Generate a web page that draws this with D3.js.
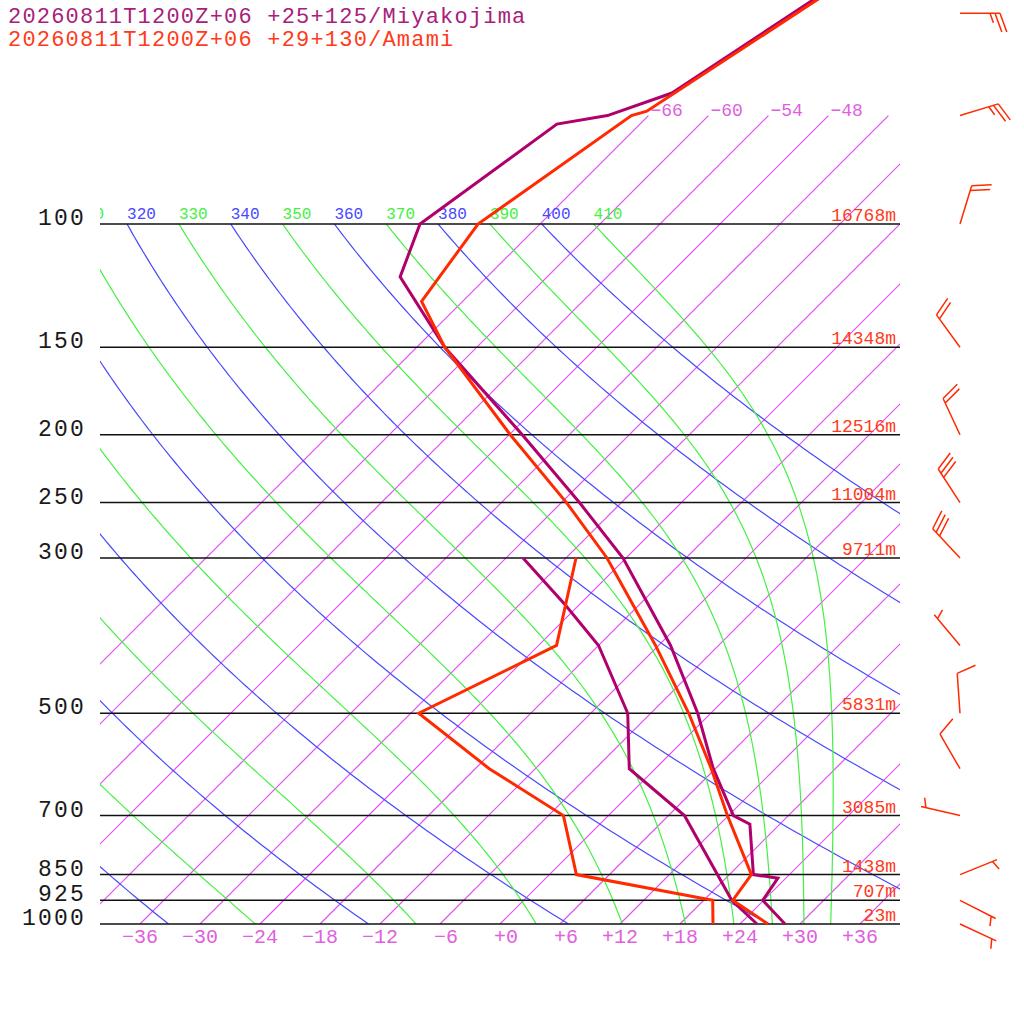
<!DOCTYPE html>
<html><head><meta charset="utf-8">
<script src="https://cdn.jsdelivr.net/npm/d3@7"></script>
<style>
body{margin:0;background:#fff}
text{font-family:"Liberation Mono","DejaVu Sans Mono",monospace}
</style>
</head><body>
<svg id="c" width="1024" height="1024"></svg>
<script>
// ---------- data ----------
const titleLines = ["20260811T1200Z+06 +25+125/Miyakojima", "20260811T1200Z+06 +29+130/Amami"];
const pressureLevels = [1000, 925, 850, 700, 500, 300, 250, 200, 150, 100];
const heightLabels   = ["23m", "707m", "1438m", "3085m", "5831m", "9711m", "11004m", "12516m", "14348m", "16768m"];
const tempTicks = [-36, -30, -24, -18, -12, -6, 0, 6, 12, 18, 24, 30, 36];
const isoTemps = d3.range(-66, 61, 6);
const isoLabelTemps = [-66, -60, -54, -48];
const thetaValues = d3.range(200, 411, 10);          // 20K multiples: dry adiabats, others: moist
const thetaLabelValues = d3.range(310, 411, 10);

// Miyakojima temperature / dew point
const miyakoTempP = [1000, 925, 860, 850, 720, 700, 600, 500, 400, 300, 250, 200, 150, 119, 100, 72, 70, 65, 30];
const miyakoTempT = [28.5, 23.9, 23.2, 20.4, 15.0, 12.5, 5.8, -1.3, -10.8, -24.3, -34.2, -46.7, -63.2, -74.7, -78.0, -74.3, -70.1, -65.9, -53.8];
const miyakoDewP  = [1000, 925, 850, 700, 600, 500, 400, 350, 300];
const miyakoDewT  = [25.7, 20.8, 16.8, 7.6, -2.6, -8.3, -18.0, -25.4, -34.3];
// Amami temperature / dew point
const amamiTempP = [1000, 925, 850, 700, 600, 500, 400, 300, 250, 200, 150, 129, 100, 70, 69, 30];
const amamiTempT = [26.8, 20.9, 20.2, 11.9, 5.6, -2.2, -12.3, -25.9, -35.5, -47.9, -63.2, -70.1, -72.2, -67.7, -66.6, -53.2];
const amamiDewP  = [1000, 925, 850, 700, 600, 500, 400, 300];
const amamiDewT  = [21.3, 18.9, 2.7, -4.5, -16.6, -29.2, -22.2, -29.0];
// Amami winds (direction from, knots)
const windP     = [50, 70, 100, 150, 200, 250, 300, 400, 500, 600, 700, 850, 925, 1000];
const windDir   = [90, 73, 17, 324, 335, 327, 317, 320, 356, 330, 283, 68, 117, 115];
const windSpeed = [25, 25, 20, 20, 20, 30, 30, 5, 10, 10, 5, 5, 5, 5];

// ---------- styles ----------
const C_MIYAKO = "#b0006b", C_MIYAKO_TXT = "#a8207a";
const C_AMAMI = "#ff2a00", C_AMAMI_TXT = "#ff3a1a";
const C_ISO = "#e050f0", C_ISO_TXT = "#e060e0";
const C_DRY = "#4848ff", C_MOIST = "#44f044";

// ---------- scales ----------
const svg = d3.select("#c");
const y = d3.scaleLog().domain([1000, 100]).range([924, 224]);
const xT = d3.scaleLinear().domain([-40, 40]).range([100, 900]);
const sx = (t, p) => xT(t) + (y(1000) - y(p));

// thermodynamics
const Rd = 287.04, cp = 1005.7, Lv = 2.501e6, eps = 0.622, kappa = Rd / cp;
const es = Tk => 6.112 * Math.exp(17.67 * (Tk - 273.15) / (Tk - 29.65));
function dTdlnp(p, Tk) {
  const e = es(Tk), rs = eps * e / (p - e);
  return (Rd * Tk + Lv * rs) / (cp + Lv * Lv * rs * eps / (Rd * Tk * Tk));
}
const N = 150;
const lnP = d3.range(N + 1).map(i => Math.log(100) + (Math.log(1000) - Math.log(100)) * i / N);

function dryLine(theta) {
  return lnP.map(u => { const p = Math.exp(u); return { p, t: theta * Math.pow(p / 1000, kappa) - 273.15 }; });
}
function moistLine(theta) {
  let T = theta * Math.pow(0.1, kappa);
  const pts = [{ p: 100, t: T - 273.15 }];
  for (let i = 0; i < N; i++) {
    const u = lnP[i], h = lnP[i + 1] - lnP[i];
    const k1 = dTdlnp(Math.exp(u), T);
    const k2 = dTdlnp(Math.exp(u + h / 2), T + h * k1 / 2);
    const k3 = dTdlnp(Math.exp(u + h / 2), T + h * k2 / 2);
    const k4 = dTdlnp(Math.exp(u + h), T + h * k3);
    T += h * (k1 + 2 * k2 + 2 * k3 + k4) / 6;
    pts.push({ p: Math.exp(lnP[i + 1]), t: T - 273.15 });
  }
  return pts;
}

const line = d3.line().x(d => sx(d.t, d.p)).y(d => y(d.p));

// ---------- clip ----------
svg.append("defs").append("clipPath").attr("id", "clip")
  .append("rect").attr("x", 100).attr("y", 0).attr("width", 800).attr("height", 924);
const grid = svg.append("g").attr("class", "grid").attr("clip-path", "url(#clip)");

// isotherms
const isoG = grid.append("g").attr("class", "isotherms");
isoTemps.forEach(t => {
  isoG.append("path")
    .attr("d", line([{ p: 1000, t }, { p: 70, t }]))
    .style("stroke", C_ISO).style("stroke-width", "1.2px").style("fill", "none");
});

// adiabats
thetaValues.forEach(th => {
  const dry = th % 20 === 0;
  grid.append("path").attr("class", dry ? "dry" : "moist")
    .attr("d", line(dry ? dryLine(th) : moistLine(th)))
    .style("fill", "none")
    .style("stroke", dry ? C_DRY : C_MOIST).style("stroke-width", "1.2px");
});

// theta labels (label of 310 is mostly cut by the plot edge: only its last digit shows)
const thetaLabelX = th => sx(th * Math.pow(0.1, kappa) - 273.15, 100);
grid.selectAll("text.th").data(thetaLabelValues).join("text").attr("class", "th")
  .attr("x", th => thetaLabelX(th) < 100 ? thetaLabelX(th) + 19.2 : thetaLabelX(th))
  .attr("y", 219).attr("font-size", 16)
  .style("fill", th => th % 20 === 0 ? C_DRY : C_MOIST)
  .text(th => thetaLabelX(th) < 100 ? String(th).slice(-1) : th);

// isotherm labels
grid.selectAll("text.isol").data(isoLabelTemps).join("text").attr("class", "isol")
  .attr("x", t => sx(t, 70) + 2).attr("y", y(70))
  .attr("font-size", 18).style("fill", C_ISO_TXT)
  .text(t => t > 0 ? "+" + t : String(t).replace("-", "\u2212"));

// pressure lines
svg.selectAll("line.pl").data(pressureLevels).join("line").attr("class", "pl")
  .attr("x1", 100).attr("x2", 900).attr("y1", p => y(p)).attr("y2", p => y(p))
  .style("stroke", "#111").style("stroke-width", "1.5px");

// pressure labels
svg.selectAll("text.pt").data(pressureLevels).join("text").attr("class", "pt")
  .attr("x", 86).attr("y", p => y(p) + 1).attr("text-anchor", "end")
  .attr("font-size", 23).attr("letter-spacing", 2.2).style("fill", "#1a1a1a").text(p => p);

// height labels
svg.selectAll("text.hl").data(pressureLevels).join("text").attr("class", "hl")
  .attr("x", 896).attr("y", p => y(p) - 3).attr("text-anchor", "end")
  .attr("font-size", 18).style("fill", C_AMAMI_TXT).text((p, i) => heightLabels[i]);

// temperature tick labels
svg.selectAll("text.tt").data(tempTicks).join("text").attr("class", "tt")
  .attr("x", t => xT(t) + 18).attr("y", 943).attr("text-anchor", "end")
  .attr("font-size", 20).style("fill", C_ISO_TXT)
  .text(t => (t < 0 ? "\u2212" + (-t) : "+" + t));

// profiles
const mk = (P, T) => P.map((p, i) => ({ p, t: T[i] }));
const prof = svg.append("g").attr("class", "profiles");
[[miyakoDewP, miyakoDewT, C_MIYAKO], [miyakoTempP, miyakoTempT, C_MIYAKO],
 [amamiDewP, amamiDewT, C_AMAMI], [amamiTempP, amamiTempT, C_AMAMI]].forEach(([P, T, c]) => {
  prof.append("path").attr("d", line(mk(P, T)))
    .style("fill", "none").style("stroke", c).style("stroke-width", "3px")
    .style("stroke-linejoin", "miter").style("stroke-miterlimit", 3);
});

// titles
svg.selectAll("text.title").data(titleLines).join("text").attr("class", "title")
  .attr("x", 8).attr("y", (d, i) => 23 + i * 23).attr("font-size", 22).attr("letter-spacing", 1.2)
  .style("fill", (d, i) => i === 0 ? C_MIYAKO_TXT : C_AMAMI_TXT).text(d => d);

// wind barbs
const barbs = svg.append("g").attr("class", "barbs");
const vec = b => [Math.sin(b * Math.PI / 180), -Math.cos(b * Math.PI / 180)];
windP.forEach((p, i) => {
  const bx = 960, by = y(p), d = windDir[i];
  const [ux, uy] = vec(d), [fx, fy] = vec(d + 70);
  const L = 40, step = 5;
  const tx = bx + L * ux, ty = by + L * uy;
  let path = `M${bx},${by}L${tx},${ty}`;
  const s = Math.round(windSpeed[i] / 5) * 5;
  const full = Math.floor(s / 10), half = (s % 10) >= 5 ? 1 : 0;
  let pos = (full === 0 && half) ? 1 : 0;
  for (let k = 0; k < full; k++, pos++) {
    const x0 = tx - pos * step * ux, y0 = ty - pos * step * uy;
    path += `M${x0},${y0}l${20 * fx},${20 * fy}`;
  }
  if (half) {
    const x0 = tx - pos * step * ux, y0 = ty - pos * step * uy;
    path += `M${x0},${y0}l${10 * fx},${10 * fy}`;
  }
  barbs.append("path").attr("d", path)
    .style("fill", "none").style("stroke", C_AMAMI).style("stroke-width", "1.5px");
});
</script>
</body></html>
